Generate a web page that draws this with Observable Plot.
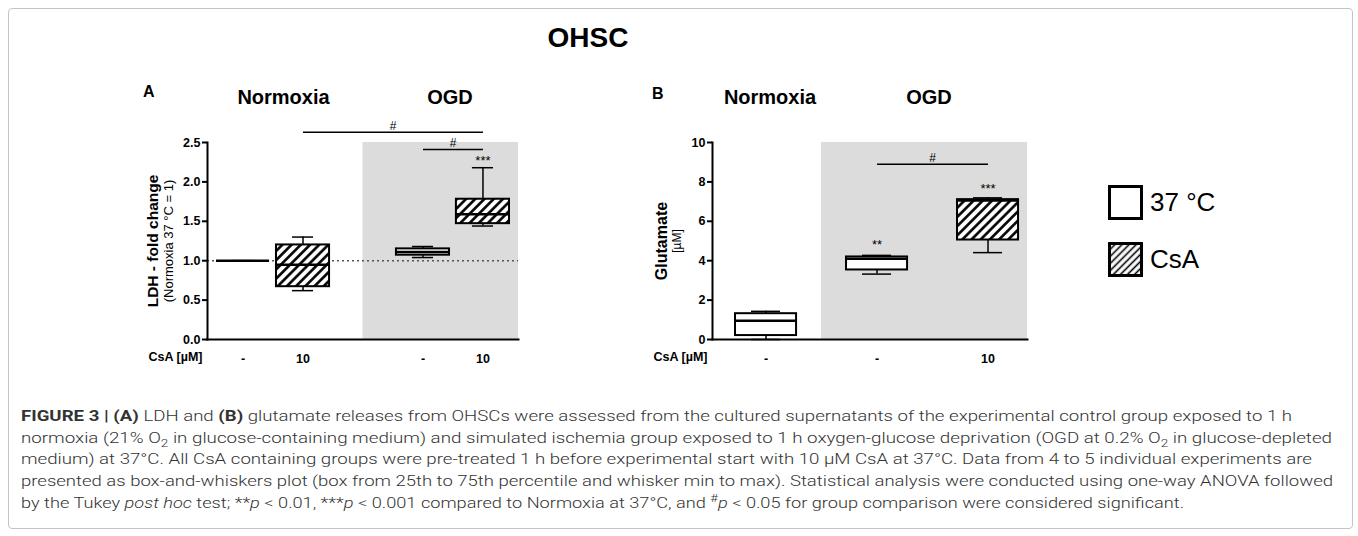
<!DOCTYPE html>
<html>
<head>
<meta charset="utf-8">
<script src="https://cdn.jsdelivr.net/npm/d3@7"></script>
<script src="https://cdn.jsdelivr.net/npm/@observablehq/plot@0.6"></script>
<style>
  html, body { margin: 0; padding: 0; background: #fff; }
  #fig { position: relative; width: 1358px; height: 536px; overflow: hidden; font-family: "Liberation Sans", Arial, sans-serif; color: #000; }
  .abs { position: absolute; white-space: nowrap; }
  .frameBox { position: absolute; left: 8px; top: 8px; width: 1343px; height: 519px; border: 1px solid #c4c4c4; border-radius: 4px; }
  .cap { color: #333; font-family: "Roboto", "Liberation Sans", Arial, sans-serif; font-weight: 300; }
  .cap b { font-weight: 700; }
  .cap sub, .cap sup { font-size: 0.72em; line-height: 0; }
  .swatch { position: absolute; width: 35px; height: 35px; box-sizing: border-box; border: 3px solid #000; background: #fff; overflow: hidden; }
</style>
</head>
<body>
<div id="fig"><div class="frameBox"></div></div>
<script>
// ---------------- data ----------------
// Panel A: LDH fold change (box = 25th-75th percentile, whiskers = min..max)
const conditionsA = ["Normoxia", "Normoxia", "OGD", "OGD"];
const treatmentsA = ["37 °C", "CsA", "37 °C", "CsA"];
const doseLabelsA = ["-", "10", "-", "10"];
const ldhMin    = [1.00, 0.62, 1.04, 1.44];
const ldhQ1     = [1.00, 0.67, 1.07, 1.47];
const ldhMedian = [1.00, 0.95, 1.11, 1.59];
const ldhQ3     = [1.00, 1.20, 1.15, 1.78];
const ldhMax    = [1.00, 1.30, 1.18, 2.18];
const ldhTicks  = [0, 0.5, 1.0, 1.5, 2.0, 2.5];
const ldhReference = 1.0;

// Panel B: Glutamate [µM]
const conditionsB = ["Normoxia", "OGD", "OGD"];
const treatmentsB = ["37 °C", "37 °C", "CsA"];
const doseLabelsB = ["-", "-", "10"];
const gluMin    = [0.00, 3.32, 4.41];
const gluQ1     = [0.20, 3.53, 5.05];
const gluMedian = [0.95, 4.10, 7.05];
const gluQ3     = [1.31, 4.19, 7.10];
const gluMax    = [1.43, 4.27, 7.19];
const gluTicks  = [0, 2, 4, 6, 8, 10];

// significance annotations
const key = (c, t) => `${c} ${t}`;
const bracketsA = [
  {from: key("Normoxia", "CsA"), to: key("OGD", "CsA"), y: 2.63, label: "#"},
  {from: key("OGD", "37 °C"), to: key("OGD", "CsA"), y: 2.41, label: "#"}
];
const starsA = [{key: key("OGD", "CsA"), y: 2.27, label: "***"}];
const bracketsB = [
  {from: key("OGD", "37 °C"), to: key("OGD", "CsA"), y: 8.9, label: "#"}
];
const starsB = [
  {key: key("OGD", "37 °C"), y: 4.82, label: "**"},
  {key: key("OGD", "CsA"), y: 7.66, label: "***"}
];

const legendLabels = ["37 °C", "CsA"];

// ---------------- helpers ----------------
const fig = document.getElementById("fig");
const FONT = "Liberation Sans, Arial, sans-serif";

function makeBoxes(conds, treats, doses, mins, q1s, meds, q3s, maxs) {
  return conds.map((c, i) => ({
    key: key(c, treats[i]), cond: c, treat: treats[i], dose: doses[i],
    min: mins[i], q1: q1s[i], med: meds[i], q3: q3s[i], max: maxs[i]
  }));
}

function hatchDefs(id, size, sw) {
  return () => {
    const defs = document.createElementNS("http://www.w3.org/2000/svg", "defs");
    defs.innerHTML = `<pattern id="${id}" patternUnits="userSpaceOnUse" width="${size}" height="${size}" patternTransform="rotate(45)"><rect width="${size}" height="${size}" fill="white"></rect><line x1="${size/2}" y1="0" x2="${size/2}" y2="${size}" stroke="black" stroke-width="${sw}"></line></pattern>`;
    return defs;
  };
}

function label(html, {x, base, size, weight = "normal", anchor = "start", cls = ""}) {
  const d = document.createElement("div");
  d.className = "abs " + cls;
  d.innerHTML = html;
  d.style.fontSize = size + "px";
  d.style.lineHeight = size + "px";
  if (weight) d.style.fontWeight = weight;
  d.style.top = (base - 0.8465 * size) + "px";
  d.style.left = x + "px";
  if (anchor === "middle") d.style.transform = "translateX(-50%)";
  fig.appendChild(d);
  return d;
}

function panel(cfg) {
  const {boxes, domain, left, top, width, height, margin, yDomain, yTicks, yFormat,
         xBand, grayFrom, brackets, stars, refLine, yTitle, ySub, titleDx, subDx,
         titleSize, subSize, hatchId} = cfg;
  const [mt, mr, mb, ml] = margin;
  const xOpts = {type: "band", domain, round: false, ...xBand};
  const xs = Plot.scale({x: {...xOpts, range: [ml, width - mr]}});
  const cx = k => xs.apply(k) + xs.bandwidth / 2;
  const grayX = grayFrom(cx);
  const doseOf = new Map(boxes.map(d => [d.key, d.dose]));

  const plot = Plot.plot({
    width, height, marginTop: mt, marginRight: mr, marginBottom: mb, marginLeft: ml,
    x: xOpts,
    y: {domain: yDomain},
    style: {fontFamily: FONT, fontSize: "12px", color: "black", background: "transparent", overflow: "visible"},
    marks: [
      hatchDefs(hatchId, 6.5, 2.6),
      Plot.rect([0], {y1: yDomain[0], y2: yDomain[1], insetLeft: grayX - ml, fill: "#dcdcdc"}),
      refLine != null ? Plot.ruleY([refLine], {stroke: "#555", strokeWidth: 1.5, strokeDasharray: "2,3"}) : null,
      Plot.link(brackets, {x1: "from", x2: "to", y1: "y", y2: "y", stroke: "black", strokeWidth: 1.5}),
      ...brackets.map(b => Plot.text([b], {x: "from", y: "y", text: "label", textAnchor: "middle", dx: (cx(b.to) - cx(b.from)) / 2, dy: -6, fontSize: 12})),
      Plot.ruleX(boxes, {x: "key", y1: "min", y2: "max", stroke: "black", strokeWidth: 1.5}),
      Plot.tickY(boxes, {x: "key", y: "min", insetLeft: 16, insetRight: 16, stroke: "black", strokeWidth: 1.5}),
      Plot.tickY(boxes, {x: "key", y: "max", insetLeft: 16, insetRight: 16, stroke: "black", strokeWidth: 1.5}),
      Plot.barY(boxes.filter(d => d.treat !== "CsA"), {x: "key", y1: "q1", y2: "q3", fill: "white", stroke: "black", strokeWidth: 2}),
      Plot.barY(boxes.filter(d => d.treat === "CsA"), {x: "key", y1: "q1", y2: "q3", fill: `url(#${hatchId})`, stroke: "black", strokeWidth: 2}),
      Plot.tickY(boxes, {x: "key", y: "med", stroke: "black", strokeWidth: 2.5}),
      Plot.text(stars, {x: "key", y: "y", text: "label", fontSize: 13}),
      Plot.frame({anchor: "left", stroke: "black", strokeWidth: 2}),
      Plot.frame({anchor: "bottom", stroke: "black", strokeWidth: 2}),
      Plot.axisY(yTicks, {tickFormat: yFormat, tickSize: 5, tickPadding: 2, fontSize: 12.5, fontWeight: "bold", strokeWidth: 2, label: null}),
      Plot.axisX(boxes.map(d => d.key), {tickFormat: k => doseOf.get(k), tickSize: 0, tickPadding: 15, fontSize: 12.5, fontWeight: "bold", label: null}),
      Plot.text(["CsA [µM]"], {frameAnchor: "bottom-left", textAnchor: "end", dx: -5, dy: 21, fontSize: 12.5, fontWeight: "bold"}),
      Plot.text([yTitle], {frameAnchor: "left", textAnchor: "middle", rotate: -90, dx: titleDx, fontSize: titleSize, fontWeight: "bold"}),
      Plot.text([ySub], {frameAnchor: "left", textAnchor: "middle", rotate: -90, dx: subDx, fontSize: subSize})
    ]
  });
  const holder = document.createElement("div");
  holder.className = "abs";
  holder.style.left = left + "px";
  holder.style.top = top + "px";
  holder.appendChild(plot);
  fig.appendChild(holder);
}

// ---------------- panels ----------------
const boxesA = makeBoxes(conditionsA, treatmentsA, doseLabelsA, ldhMin, ldhQ1, ldhMedian, ldhQ3, ldhMax);
const spacer = " ";
const domainA = [boxesA[0].key, boxesA[1].key, spacer, boxesA[2].key, boxesA[3].key];
panel({
  boxes: boxesA, domain: domainA, left: 100, top: 110, width: 430, height: 279,
  margin: [32, 12, 50, 107], yDomain: [0, 2.5], yTicks: ldhTicks, yFormat: d3.format(".1f"),
  xBand: {paddingInner: 0.115, paddingOuter: 0.15, align: 0.5},
  grayFrom: cx => cx(spacer),
  brackets: bracketsA, stars: starsA, refLine: ldhReference,
  yTitle: "LDH - fold change", ySub: "(Normoxia 37 °C = 1)", titleDx: -54, subDx: -39,
  titleSize: 15.5, subSize: 13, hatchId: "hatchA"
});

const boxesB = makeBoxes(conditionsB, treatmentsB, doseLabelsB, gluMin, gluQ1, gluMedian, gluQ3, gluMax);
panel({
  boxes: boxesB, domain: boxesB.map(d => d.key), left: 600, top: 110, width: 440, height: 279,
  margin: [32, 13, 50, 112], yDomain: [0, 10], yTicks: gluTicks, yFormat: d3.format("d"),
  xBand: {paddingInner: 0.45, paddingOuter: 0.144, align: 0.72},
  grayFrom: cx => (cx(boxesB[0].key) + cx(boxesB[1].key)) / 2,
  brackets: bracketsB, stars: starsB, refLine: null,
  yTitle: "Glutamate", ySub: "[µM]", titleDx: -51, subDx: -35,
  titleSize: 16, subSize: 12, hatchId: "hatchB"
});

// ---------------- titles & headers ----------------
label("OHSC", {x: 588, base: 48, size: 28, weight: "bold", anchor: "middle"});
label("A", {x: 143, base: 98, size: 16, weight: "bold"});
label("B", {x: 652, base: 100, size: 16, weight: "bold"});
label("Normoxia", {x: 283.5, base: 104, size: 20, weight: "bold", anchor: "middle"});
label("OGD", {x: 450, base: 104, size: 20, weight: "bold", anchor: "middle"});
label("Normoxia", {x: 770, base: 104, size: 20, weight: "bold", anchor: "middle"});
label("OGD", {x: 929, base: 104, size: 20, weight: "bold", anchor: "middle"});

// ---------------- legend ----------------
const sw1 = document.createElement("div");
sw1.className = "swatch"; sw1.style.left = "1108px"; sw1.style.top = "185px";
fig.appendChild(sw1);
const sw2 = document.createElement("div");
sw2.className = "swatch"; sw2.style.left = "1108px"; sw2.style.top = "242px";
sw2.innerHTML = `<svg width="29" height="29" style="display:block"><defs><pattern id="hatchL" patternUnits="userSpaceOnUse" width="5" height="5" patternTransform="rotate(45)"><rect width="5" height="5" fill="white"></rect><line x1="2.5" y1="0" x2="2.5" y2="5" stroke="black" stroke-width="1.6"></line></pattern></defs><rect width="29" height="29" fill="url(#hatchL)"></rect></svg>`;
fig.appendChild(sw2);
label(legendLabels[0], {x: 1150, base: 211.5, size: 26});
label(legendLabels[1], {x: 1150, base: 268.5, size: 26});

// ---------------- caption ----------------
const captionLines = [
  `<b>FIGURE 3 | (A)</b> LDH and <b>(B)</b> glutamate releases from OHSCs were assessed from the cultured supernatants of the experimental control group exposed to 1 h`,
  `normoxia (21% O<sub>2</sub> in glucose-containing medium) and simulated ischemia group exposed to 1 h oxygen-glucose deprivation (OGD at 0.2% O<sub>2</sub> in glucose-depleted`,
  `medium) at 37°C. All CsA containing groups were pre-treated 1 h before experimental start with 10 μM CsA at 37°C. Data from 4 to 5 individual experiments are`,
  `presented as box-and-whiskers plot (box from 25th to 75th percentile and whisker min to max). Statistical analysis were conducted using one-way ANOVA followed`,
  `by the Tukey <i>post hoc</i> test; **<i>p</i> &lt; 0.01, ***<i>p</i> &lt; 0.001 compared to Normoxia at 37°C, and <sup>#</sup><i>p</i> &lt; 0.05 for group comparison were considered significant.`
];
const captionEnds = [1292, 1332, 1312, 1333, 1184];
const capLeft = 21;
captionLines.forEach((html, i) => {
  const d = label(html, {x: capLeft, base: 422 + i * 21.7, size: 15.5, weight: null, cls: "cap"});
  const w = d.getBoundingClientRect().width;
  d.style.transformOrigin = "0 0";
  d.style.transform = `scaleX(${(captionEnds[i] - capLeft) / w})`;
});
</script>
</body>
</html>
